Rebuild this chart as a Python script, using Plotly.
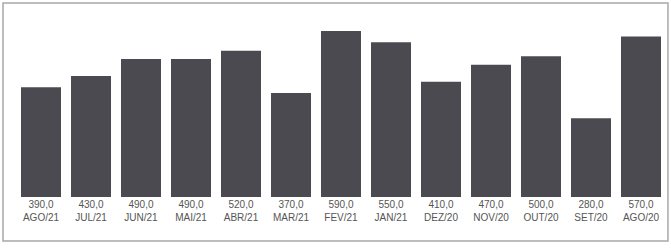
import plotly.graph_objects as go

categories = ["AGO/21", "JUL/21", "JUN/21", "MAI/21", "ABR/21", "MAR/21", "FEV/21",
              "JAN/21", "DEZ/20", "NOV/20", "OUT/20", "SET/20", "AGO/20"]
values = [390, 430, 490, 490, 520, 370, 590, 550, 410, 470, 500, 280, 570]

value_labels = [f"{v:.1f}".replace(".", ",") for v in values]
tick_text = [f"{vl}<br>{c}" for vl, c in zip(value_labels, categories)]

fig = go.Figure(go.Bar(
    x=categories,
    y=values,
    marker=dict(color="#4b4a50", line=dict(width=0)),
    hoverinfo="x+y",
))

fig.update_layout(
    width=671, height=249,
    margin=dict(l=16, r=5, t=20, b=52),
    paper_bgcolor="white",
    plot_bgcolor="white",
    bargap=0.2,
    showlegend=False,
    font=dict(family="Liberation Sans, Arial, sans-serif", size=10, color="#555555"),
    xaxis=dict(
        tickmode="array", tickvals=categories, ticktext=tick_text,
        showgrid=False, showline=False, zeroline=False, ticks="",
        tickfont=dict(size=10, color="#555555"),
    ),
    yaxis=dict(range=[0, 629], visible=False, showgrid=False, zeroline=False),
    shapes=[dict(type="rect", xref="paper", yref="paper",
                 x0=-0.02, x1=1.003, y0=-0.249, y1=1.096,
                 line=dict(color="#a8a8a8", width=1.5), layer="below")],
)

fig.write_html("out.html", config={"displayModeBar": False},
               post_script="document.body.style.margin='0px';")
